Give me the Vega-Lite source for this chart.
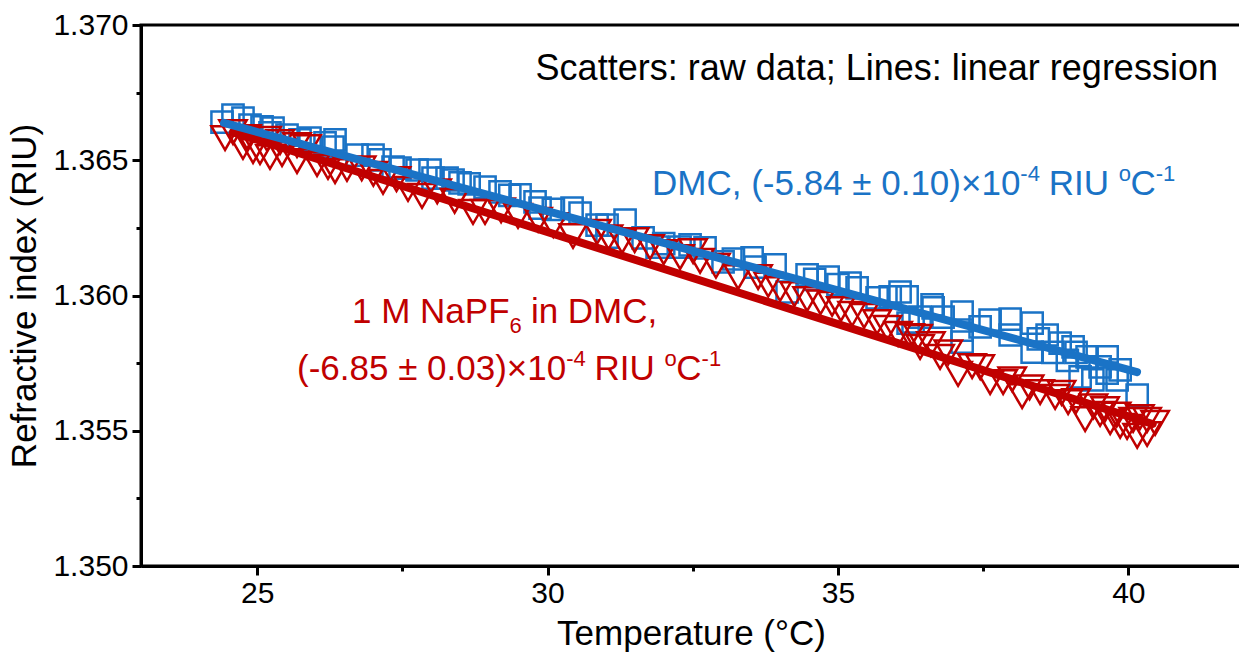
{
  "$schema": "https://vega.github.io/schema/vega-lite/v6.json",
  "width": 1100,
  "height": 541,
  "autosize": {"type": "none"},
  "padding": {"left": 141, "top": 25, "right": 0, "bottom": 93},
  "background": "white",
  "config": {
    "font": "Liberation Sans",
    "view": {"stroke": "black", "strokeWidth": 3},
    "axis": {
      "grid": false,
      "domainWidth": 3,
      "domainColor": "black",
      "tickWidth": 3,
      "tickColor": "black",
      "labelColor": "black",
      "titleColor": "black",
      "labelFontSize": 30,
      "titleFontSize": 35,
      "titleFontWeight": "normal",
      "labelFlush": false,
      "labelOverlap": false
    }
  },
  "datasets": {
    "dmc": [
      {"T": 24.395, "n": 1.36641}, {"T": 24.584, "n": 1.36667}, {"T": 24.756, "n": 1.36656}, {"T": 24.877, "n": 1.3663},
      {"T": 25.084, "n": 1.36623}, {"T": 25.221, "n": 1.36601}, {"T": 25.273, "n": 1.36619}, {"T": 25.514, "n": 1.36593},
      {"T": 25.738, "n": 1.36575}, {"T": 25.91, "n": 1.36582}, {"T": 26.169, "n": 1.36564}, {"T": 26.306, "n": 1.36549},
      {"T": 26.341, "n": 1.36575}, {"T": 26.72, "n": 1.36519}, {"T": 26.995, "n": 1.36519}, {"T": 27.116, "n": 1.36501},
      {"T": 27.34, "n": 1.36475}, {"T": 27.46, "n": 1.36471}, {"T": 27.753, "n": 1.36464}, {"T": 27.977, "n": 1.36464},
      {"T": 28.028, "n": 1.36434}, {"T": 28.27, "n": 1.36434}, {"T": 28.373, "n": 1.36427}, {"T": 28.493, "n": 1.36416},
      {"T": 28.65, "n": 1.36413}, {"T": 28.924, "n": 1.36401}, {"T": 29.182, "n": 1.36383}, {"T": 29.35, "n": 1.3637},
      {"T": 29.527, "n": 1.36372}, {"T": 29.785, "n": 1.36346}, {"T": 29.871, "n": 1.36323}, {"T": 30.1, "n": 1.36318},
      {"T": 30.422, "n": 1.36323}, {"T": 30.56, "n": 1.36305}, {"T": 30.853, "n": 1.3626}, {"T": 31.025, "n": 1.3626},
      {"T": 31.335, "n": 1.36279}, {"T": 31.025, "n": 1.36216}, {"T": 31.645, "n": 1.36213}, {"T": 31.886, "n": 1.36179},
      {"T": 32.0, "n": 1.36192}, {"T": 32.282, "n": 1.36179}, {"T": 32.454, "n": 1.36187}, {"T": 32.712, "n": 1.36176},
      {"T": 33.022, "n": 1.36124}, {"T": 33.2, "n": 1.36135}, {"T": 33.522, "n": 1.36139}, {"T": 33.573, "n": 1.36105},
      {"T": 33.918, "n": 1.36113}, {"T": 34.124, "n": 1.36013}, {"T": 34.469, "n": 1.36076}, {"T": 34.6, "n": 1.3606},
      {"T": 34.831, "n": 1.36068}, {"T": 35.0, "n": 1.3604}, {"T": 35.209, "n": 1.36046}, {"T": 35.33, "n": 1.36028},
      {"T": 35.674, "n": 1.35991}, {"T": 35.9, "n": 1.35995}, {"T": 36.07, "n": 1.36013}, {"T": 36.191, "n": 1.35995},
      {"T": 36.294, "n": 1.35902}, {"T": 36.621, "n": 1.35965}, {"T": 36.208, "n": 1.35898}, {"T": 36.415, "n": 1.3592},
      {"T": 36.639, "n": 1.35954}, {"T": 36.811, "n": 1.3592}, {"T": 37.138, "n": 1.35939}, {"T": 37.138, "n": 1.35872},
      {"T": 37.138, "n": 1.35828}, {"T": 37.448, "n": 1.35884}, {"T": 37.62, "n": 1.35909}, {"T": 37.965, "n": 1.35913},
      {"T": 37.965, "n": 1.35854}, {"T": 38.344, "n": 1.35898}, {"T": 38.344, "n": 1.35791}, {"T": 38.45, "n": 1.3584},
      {"T": 38.602, "n": 1.35854}, {"T": 38.7, "n": 1.3579}, {"T": 38.826, "n": 1.35824}, {"T": 38.95, "n": 1.3576},
      {"T": 39.049, "n": 1.3581}, {"T": 39.1, "n": 1.3579}, {"T": 39.17, "n": 1.35699}, {"T": 39.29, "n": 1.35773},
      {"T": 39.39, "n": 1.35688}, {"T": 39.514, "n": 1.35736}, {"T": 39.635, "n": 1.35773}, {"T": 39.635, "n": 1.35713},
      {"T": 39.807, "n": 1.35688}, {"T": 39.859, "n": 1.35725}, {"T": 40.152, "n": 1.35632}
    ],
    "napf": [
      {"T": 24.447, "n": 1.36582}, {"T": 24.584, "n": 1.36604}, {"T": 24.756, "n": 1.36549}, {"T": 24.825, "n": 1.36586},
      {"T": 24.929, "n": 1.36534}, {"T": 25.049, "n": 1.3653}, {"T": 25.17, "n": 1.36579}, {"T": 25.221, "n": 1.36512},
      {"T": 25.394, "n": 1.36567}, {"T": 25.428, "n": 1.36523}, {"T": 25.686, "n": 1.36497}, {"T": 25.686, "n": 1.36556},
      {"T": 25.859, "n": 1.36549}, {"T": 26.031, "n": 1.36486}, {"T": 26.22, "n": 1.36475}, {"T": 26.341, "n": 1.3646},
      {"T": 26.547, "n": 1.36468}, {"T": 26.8, "n": 1.3647}, {"T": 27.0, "n": 1.3645}, {"T": 27.167, "n": 1.3642},
      {"T": 27.4, "n": 1.3643}, {"T": 27.598, "n": 1.36394}, {"T": 27.839, "n": 1.36368}, {"T": 28.1, "n": 1.36385},
      {"T": 28.4, "n": 1.3635}, {"T": 28.717, "n": 1.36309}, {"T": 28.924, "n": 1.36309}, {"T": 29.2, "n": 1.36315},
      {"T": 29.492, "n": 1.36294}, {"T": 29.837, "n": 1.3628}, {"T": 30.1, "n": 1.3626}, {"T": 30.439, "n": 1.3622},
      {"T": 30.853, "n": 1.36235}, {"T": 31.05, "n": 1.36215}, {"T": 31.283, "n": 1.36201}, {"T": 31.5, "n": 1.36205},
      {"T": 31.765, "n": 1.36179}, {"T": 32.0, "n": 1.3616}, {"T": 32.282, "n": 1.36142}, {"T": 32.506, "n": 1.36164},
      {"T": 32.626, "n": 1.36128}, {"T": 32.9, "n": 1.3611}, {"T": 33.281, "n": 1.36068}, {"T": 33.625, "n": 1.36068},
      {"T": 33.8, "n": 1.3604}, {"T": 34.004, "n": 1.36024}, {"T": 34.25, "n": 1.36005}, {"T": 34.469, "n": 1.35987},
      {"T": 34.7, "n": 1.35975}, {"T": 34.899, "n": 1.35969}, {"T": 35.05, "n": 1.3595}, {"T": 35.244, "n": 1.35932},
      {"T": 35.45, "n": 1.35925}, {"T": 35.674, "n": 1.35902}, {"T": 35.85, "n": 1.3588}, {"T": 36.036, "n": 1.35858},
      {"T": 36.243, "n": 1.3585}, {"T": 36.38, "n": 1.35847}, {"T": 36.415, "n": 1.3581}, {"T": 36.6, "n": 1.3582},
      {"T": 36.759, "n": 1.35773}, {"T": 36.9, "n": 1.3579}, {"T": 37.069, "n": 1.3571}, {"T": 37.31, "n": 1.35739},
      {"T": 37.45, "n": 1.35735}, {"T": 37.62, "n": 1.3568}, {"T": 37.844, "n": 1.3568}, {"T": 38.0, "n": 1.3569},
      {"T": 38.171, "n": 1.35628}, {"T": 38.3, "n": 1.3566}, {"T": 38.481, "n": 1.35643}, {"T": 38.74, "n": 1.35625},
      {"T": 38.85, "n": 1.3564}, {"T": 38.963, "n": 1.35606}, {"T": 39.1, "n": 1.3561}, {"T": 39.256, "n": 1.35543},
      {"T": 39.4, "n": 1.3559}, {"T": 39.514, "n": 1.35562}, {"T": 39.6, "n": 1.3558}, {"T": 39.687, "n": 1.35532},
      {"T": 39.8, "n": 1.3556}, {"T": 39.859, "n": 1.35518}, {"T": 39.979, "n": 1.35514}, {"T": 40.083, "n": 1.3554},
      {"T": 40.152, "n": 1.35481}, {"T": 40.2, "n": 1.3555}, {"T": 40.324, "n": 1.35488}, {"T": 40.324, "n": 1.3554},
      {"T": 40.462, "n": 1.35529}
    ],
    "fitDMC": [{"T": 24.43, "n": 1.36638}, {"T": 40.15, "n": 1.35717}],
    "fitNa": [{"T": 24.58, "n": 1.36604}, {"T": 40.42, "n": 1.35525}],
    "note": [{"T": 41.543, "n": 1.367967, "label": "Scatters: raw data; Lines: linear regression"}],
    "main": [
      {"T": 31.798, "n": 1.363715, "label": "DMC, (-5.84 ± 0.10)×10", "series": "DMC"},
      {"T": 38.63, "n": 1.363715, "label": "RIU", "series": "DMC"},
      {"T": 40.037, "n": 1.363715, "label": "C", "series": "DMC"},
      {"T": 26.633, "n": 1.358983, "label": "1 M NaPF", "series": "NaPF6"},
      {"T": 29.713, "n": 1.358983, "label": "in DMC,", "series": "NaPF6"},
      {"T": 25.686, "n": 1.356876, "label": "(-6.85 ± 0.03)×10", "series": "NaPF6"},
      {"T": 30.81, "n": 1.356876, "label": "RIU", "series": "NaPF6"},
      {"T": 32.217, "n": 1.356876, "label": "C", "series": "NaPF6"}
    ],
    "sup": [
      {"T": 38.141, "n": 1.363715, "label": "-4", "series": "DMC"},
      {"T": 39.835, "n": 1.363715, "label": "o", "series": "DMC"},
      {"T": 40.472, "n": 1.363715, "label": "-1", "series": "DMC"},
      {"T": 30.321, "n": 1.356876, "label": "-4", "series": "NaPF6"},
      {"T": 32.015, "n": 1.356876, "label": "o", "series": "NaPF6"},
      {"T": 32.652, "n": 1.356876, "label": "-1", "series": "NaPF6"}
    ],
    "sub": [
      {"T": 29.345, "n": 1.358983, "label": "6", "series": "NaPF6"}
    ]
  },
  "encoding": {
    "x": {
      "field": "T",
      "type": "quantitative",
      "scale": {"domain": [23, 41.94], "nice": false, "zero": false},
      "axis": {
        "values": [25, 27.5, 30, 32.5, 35, 37.5, 40],
        "labelExpr": "datum.value % 5 === 0 ? datum.label : ''",
        "tickSize": {"condition": {"test": "datum.value % 5 === 0", "value": 9}, "value": 5},
        "title": "Temperature (°C)",
        "labelPadding": 3,
        "titlePadding": 8
      }
    },
    "y": {
      "field": "n",
      "type": "quantitative",
      "scale": {"domain": [1.35, 1.37], "nice": false, "zero": false},
      "axis": {
        "values": [1.35, 1.3525, 1.355, 1.3575, 1.36, 1.3625, 1.365, 1.3675, 1.37],
        "labelExpr": "round(datum.value * 10000) % 50 === 0 ? format(datum.value, '.3f') : ''",
        "tickSize": {"condition": {"test": "round(datum.value * 10000) % 50 === 0", "value": 9}, "value": 5},
        "title": "Refractive index (RIU)",
        "labelPadding": 4,
        "titlePadding": 10
      }
    }
  },
  "layer": [
    {
      "data": {"name": "dmc"},
      "mark": {"type": "point", "shape": "square", "filled": false, "stroke": "#1a73c6", "strokeWidth": 2.5, "size": 450, "opacity": 1}
    },
    {
      "data": {"name": "napf"},
      "mark": {"type": "point", "shape": "triangle-down", "filled": false, "stroke": "#c00000", "strokeWidth": 2.5, "size": 750, "opacity": 1}
    },
    {
      "data": {"name": "fitNa"},
      "mark": {"type": "line", "stroke": "#c00000", "strokeWidth": 8, "strokeCap": "round"}
    },
    {
      "data": {"name": "fitDMC"},
      "mark": {"type": "line", "stroke": "#1a73c6", "strokeWidth": 8, "strokeCap": "round"}
    },
    {
      "data": {"name": "note"},
      "mark": {"type": "text", "align": "right", "baseline": "alphabetic", "fontSize": 36, "color": "black"},
      "encoding": {"text": {"field": "label"}}
    },
    {
      "data": {"name": "main"},
      "mark": {"type": "text", "align": "left", "baseline": "alphabetic", "fontSize": 35},
      "encoding": {
        "text": {"field": "label"},
        "color": {"field": "series", "type": "nominal", "scale": {"domain": ["DMC", "NaPF6"], "range": ["#1a73c6", "#c00000"]}, "legend": null}
      }
    },
    {
      "data": {"name": "sup"},
      "mark": {"type": "text", "align": "left", "baseline": "alphabetic", "fontSize": 22, "dy": -14},
      "encoding": {
        "text": {"field": "label"},
        "color": {"field": "series", "type": "nominal", "scale": {"domain": ["DMC", "NaPF6"], "range": ["#1a73c6", "#c00000"]}, "legend": null}
      }
    },
    {
      "data": {"name": "sub"},
      "mark": {"type": "text", "align": "left", "baseline": "alphabetic", "fontSize": 22, "dy": 10},
      "encoding": {
        "text": {"field": "label"},
        "color": {"field": "series", "type": "nominal", "scale": {"domain": ["DMC", "NaPF6"], "range": ["#1a73c6", "#c00000"]}, "legend": null}
      }
    }
  ]
}
